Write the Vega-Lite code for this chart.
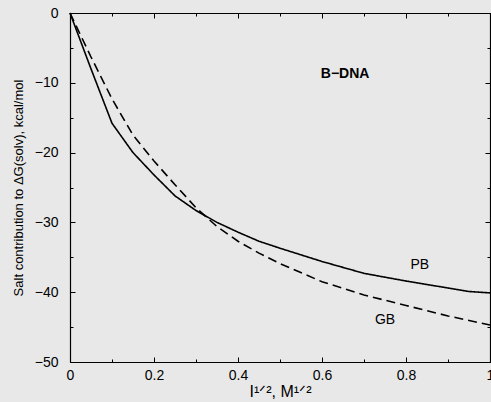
{
  "$schema": "https://vega.github.io/schema/vega-lite/v6.json",
  "width": 420,
  "height": 349,
  "autosize": {"type": "none"},
  "padding": {"left": 70, "top": 13, "right": 1, "bottom": 40},
  "background": "#e8e8e8",
  "config": {"view": {"stroke": null}, "font": "Liberation Sans"},
  "datasets": {
    "curves": [
      {"model": "PB", "x": 0, "y": 0},
      {"model": "PB", "x": 0.05, "y": -8},
      {"model": "PB", "x": 0.1, "y": -15.8},
      {"model": "PB", "x": 0.15, "y": -20},
      {"model": "PB", "x": 0.2, "y": -23.2},
      {"model": "PB", "x": 0.25, "y": -26.2},
      {"model": "PB", "x": 0.3, "y": -28.3},
      {"model": "PB", "x": 0.35, "y": -30},
      {"model": "PB", "x": 0.4, "y": -31.4},
      {"model": "PB", "x": 0.45, "y": -32.7},
      {"model": "PB", "x": 0.5, "y": -33.7},
      {"model": "PB", "x": 0.6, "y": -35.6},
      {"model": "PB", "x": 0.7, "y": -37.3},
      {"model": "PB", "x": 0.8, "y": -38.4},
      {"model": "PB", "x": 0.9, "y": -39.4},
      {"model": "PB", "x": 0.95, "y": -39.9},
      {"model": "PB", "x": 1, "y": -40.1},
      {"model": "GB", "x": 0, "y": 0},
      {"model": "GB", "x": 0.05, "y": -6.3},
      {"model": "GB", "x": 0.1, "y": -12.3},
      {"model": "GB", "x": 0.15, "y": -17.5},
      {"model": "GB", "x": 0.2, "y": -21.2},
      {"model": "GB", "x": 0.25, "y": -24.6},
      {"model": "GB", "x": 0.3, "y": -27.9},
      {"model": "GB", "x": 0.35, "y": -30.6},
      {"model": "GB", "x": 0.4, "y": -32.7},
      {"model": "GB", "x": 0.45, "y": -34.4},
      {"model": "GB", "x": 0.5, "y": -35.9},
      {"model": "GB", "x": 0.6, "y": -38.5},
      {"model": "GB", "x": 0.7, "y": -40.4},
      {"model": "GB", "x": 0.8, "y": -41.9},
      {"model": "GB", "x": 0.9, "y": -43.4},
      {"model": "GB", "x": 1, "y": -44.7}
    ],
    "labels": [
      {"label": "PB", "x": 0.833, "y": -36.1},
      {"label": "GB", "x": 0.75, "y": -44}
    ],
    "title": [
      {"label": "B−DNA", "x": 0.655, "y": -8.8}
    ]
  },
  "layer": [
    {
      "data": {"name": "curves"},
      "mark": {"type": "line", "color": "black", "strokeWidth": 1.6},
      "encoding": {
        "x": {
          "field": "x", "type": "quantitative",
          "scale": {"domain": [0, 1], "nice": false, "zero": false},
          "axis": {
            "orient": "bottom",
            "values": [0, 0.1, 0.2, 0.3, 0.4, 0.5, 0.6, 0.7, 0.8, 0.9, 1],
            "labelExpr": "round(datum.value*10)%2==0 ? format(datum.value,'~g') : ''",
            "tickSize": {"condition": {"test": "round(datum.value*10)%2==1", "value": -3}, "value": -5},
            "tickColor": "black",
            "domainColor": "black", "domainWidth": 1.2,
            "grid": false,
            "labelFontSize": 14, "labelColor": "black", "labelPadding": 11, "labelFlush": false,
            "title": "I¹ᐟ², M¹ᐟ²", "titleFontSize": 16, "titleFontWeight": "normal", "titleColor": "black", "titlePadding": 1
          }
        },
        "y": {
          "field": "y", "type": "quantitative",
          "scale": {"domain": [-50, 0], "nice": false, "zero": false},
          "axis": {
            "orient": "left",
            "values": [-50, -45, -40, -35, -30, -25, -20, -15, -10, -5, 0],
            "labelExpr": "datum.value % 10 == 0 ? format(datum.value,'d') : ''",
            "tickSize": {"condition": {"test": "datum.value % 10 != 0", "value": -3}, "value": -5},
            "tickColor": "black",
            "domainColor": "black", "domainWidth": 1.2,
            "grid": false,
            "labelFontSize": 14, "labelColor": "black", "labelPadding": 17,
            "title": "Salt contribution to ΔG(solv), kcal/mol", "titleFontSize": 13, "titleFontWeight": "normal", "titleColor": "black", "titlePadding": 9
          }
        },
        "strokeDash": {
          "field": "model", "type": "nominal",
          "scale": {"domain": ["PB", "GB"], "range": [[1, 0], [9, 5]]},
          "legend": null
        }
      }
    },
    {
      "data": {"name": "labels"},
      "mark": {"type": "text", "fontSize": 14, "color": "black"},
      "encoding": {
        "x": {
          "field": "x", "type": "quantitative",
          "scale": {"domain": [0, 1], "nice": false, "zero": false},
          "axis": {
            "orient": "top",
            "values": [0, 0.1, 0.2, 0.3, 0.4, 0.5, 0.6, 0.7, 0.8, 0.9, 1],
            "labels": false,
            "tickSize": {"condition": {"test": "round(datum.value*10)%2==1", "value": -3}, "value": -5},
            "tickColor": "black",
            "domainColor": "black", "domainWidth": 1.2,
            "grid": false, "title": null
          }
        },
        "y": {
          "field": "y", "type": "quantitative",
          "scale": {"domain": [-50, 0], "nice": false, "zero": false},
          "axis": {
            "orient": "right",
            "values": [-50, -45, -40, -35, -30, -25, -20, -15, -10, -5, 0],
            "labels": false,
            "tickSize": {"condition": {"test": "datum.value % 10 != 0", "value": -3}, "value": -5},
            "tickColor": "black",
            "domainColor": "black", "domainWidth": 1.2,
            "grid": false, "title": null
          }
        },
        "text": {"field": "label"}
      }
    },
    {
      "data": {"name": "title"},
      "mark": {"type": "text", "fontSize": 14, "fontWeight": "bold", "color": "black"},
      "encoding": {
        "x": {"field": "x", "type": "quantitative", "axis": null},
        "y": {"field": "y", "type": "quantitative", "axis": null},
        "text": {"field": "label"}
      }
    }
  ],
  "resolve": {"axis": {"x": "independent", "y": "independent"}}
}
